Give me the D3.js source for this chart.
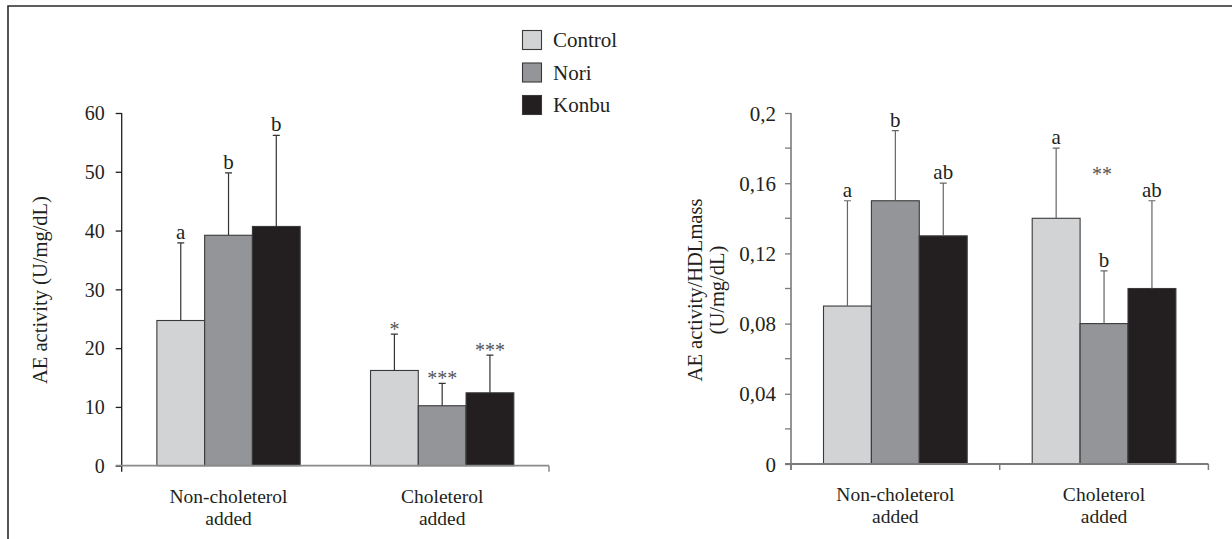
<!DOCTYPE html>
<html>
<head>
<meta charset="utf-8">
<script src="https://cdn.jsdelivr.net/npm/d3@7"></script>
<style>
  body { margin: 0; background: #fff; }
</style>
</head>
<body>
<script>
// data
var groups = ['Non-choleterol|added', 'Choleterol|added'];
var series = ['Control', 'Nori', 'Konbu'];
var colors = ['#d1d3d4', '#939598', '#231f20'];

// left panel: AE activity (U/mg/dL)
var aeMean  = [[24.7, 39.2, 40.7], [16.2, 10.2, 12.4]];
var aeErr   = [[37.9, 49.8, 56.2], [22.4, 14.0, 18.8]];
var aeMarks = [['a', 'b', 'b'], ['*', '***', '***']];
var aeTicks = [0, 10, 20, 30, 40, 50, 60];

// right panel: AE activity/HDLmass (U/mg/dL)
var hdlMean  = [[0.09, 0.15, 0.13], [0.14, 0.08, 0.10]];
var hdlErr   = [[0.15, 0.19, 0.16], [0.18, 0.11, 0.15]];
var hdlMarks = [['a', 'b', 'ab'], ['a', 'b', 'ab']];
var hdlTicks = [0, 0.04, 0.08, 0.12, 0.16, 0.2];
var hdlMinor = [0.02, 0.06, 0.10, 0.14, 0.18];
var hdlGroupMark = [null, '**'];
var hdlGroupMarkAt = [null, 0.167];

var FONT = '"Liberation Serif", "Times New Roman", Tinos, "Noto Serif", "DejaVu Serif", serif';
var W = 1232, H = 539;
var svg = d3.select('body').append('svg').attr('width', W).attr('height', H)
  .style('display', 'block').attr('font-family', FONT);

// every label goes through here so the serif face is set on the element itself
function txt(sel, size, color) {
  return sel.attr('font-family', FONT).attr('font-size', size)
    .style('font-family', FONT).attr('fill', color || '#231f20');
}

// frame (left + top edges only, the figure is cut on the other sides)
svg.append('path')
  .attr('d', 'M8,' + H + ' L8,6 L' + W + ',6')
  .attr('fill', 'none').attr('stroke', '#2a2a2a').attr('stroke-width', 1.6);

function panel(opt) {
  var g = svg.append('g');
  var y = d3.scaleLinear().domain(opt.domain).range([opt.y0, opt.y1]);
  var x0 = d3.scaleBand().domain(groups).range([opt.x0, opt.x1]);
  var bw = x0.bandwidth();
  var x1 = d3.scaleBand().domain(series)
    .range([(bw - opt.gw) / 2, (bw + opt.gw) / 2]);

  // y axis
  var yAxis = d3.axisLeft(y).tickValues(opt.ticks).tickSize(6).tickPadding(opt.pad)
    .tickFormat(opt.fmt);
  var ya = g.append('g').attr('transform', 'translate(' + opt.x0 + ',0)').call(yAxis)
    .attr('font-family', FONT);
  ya.select('.domain').remove();
  ya.selectAll('.tick line').attr('stroke', opt.axisColor).attr('stroke-width', 1.3);
  txt(ya.selectAll('.tick text'), opt.tickSize).attr('dy', '0.34em');
  if (opt.minor) {
    g.selectAll('.minor').data(opt.minor).enter().append('line')
      .attr('x1', opt.x0 - 6).attr('x2', opt.x0)
      .attr('y1', function(d){ return y(d); }).attr('y2', function(d){ return y(d); })
      .attr('stroke', opt.axisColor).attr('stroke-width', 1.3);
  }
  g.append('line')
    .attr('x1', opt.x0).attr('x2', opt.x0)
    .attr('y1', y(opt.domain[1])).attr('y2', y(0) + 6)
    .attr('stroke', opt.axisColor).attr('stroke-width', opt.yAxisWidth);

  // bars
  groups.forEach(function(grp, gi) {
    var gg = g.append('g').attr('transform', 'translate(' + x0(grp) + ',0)');
    gg.selectAll('rect').data(series).enter().append('rect')
      .attr('x', function(s){ return x1(s); })
      .attr('y', function(s, i){ return y(opt.mean[gi][i]); })
      .attr('width', x1.bandwidth())
      .attr('height', function(s, i){ return y(0) - y(opt.mean[gi][i]); })
      .attr('fill', function(s, i){ return colors[i]; })
      .attr('stroke', '#3a3a3a').attr('stroke-width', 1.1);

    // error bars (upper only)
    gg.selectAll('.err').data(series).enter().append('path')
      .attr('d', function(s, i) {
        var cx = x1(s) + x1.bandwidth() / 2;
        var t = y(opt.err[gi][i]), b = y(opt.mean[gi][i]);
        return 'M' + cx + ',' + b + ' L' + cx + ',' + t +
               ' M' + (cx - 3.5) + ',' + t + ' L' + (cx + 3.5) + ',' + t;
      })
      .attr('fill', 'none').attr('stroke', opt.errColor).attr('stroke-width', 1.2);

    gg.selectAll('.mk').data(series).enter().append('text')
      .attr('x', function(s){ return x1(s) + x1.bandwidth() / 2; })
      .attr('y', function(s, i){
        var m = opt.marks[gi][i];
        return y(opt.err[gi][i]) - (m.charAt(0) === '*' ? -2 : 4);
      })
      .attr('text-anchor', 'middle')
      .each(function(s, i){
        var star = opt.marks[gi][i].charAt(0) === '*';
        txt(d3.select(this), star ? 20 : 21, star ? '#555' : '#231f20');
      })
      .text(function(s, i){ return opt.marks[gi][i]; });

    if (opt.groupMark && opt.groupMark[gi]) {
      txt(gg.append('text'), 20, '#555')
        .attr('x', bw / 2 - 2).attr('y', y(opt.groupMarkAt[gi]) + 10)
        .attr('text-anchor', 'middle')
        .text(opt.groupMark[gi]);
    }

    // category label
    var lines = grp.split('|');
    txt(gg.selectAll('.cat').data(lines).enter().append('text'), 19.5)
      .attr('x', bw / 2)
      .attr('y', function(d, i){ return y(0) + 37 + i * 21.8; })
      .attr('text-anchor', 'middle')
      .text(function(d){ return d; });
  });

  // x axis line and its ticks
  g.append('line')
    .attr('x1', opt.x0 - 6).attr('x2', opt.x1)
    .attr('y1', y(0)).attr('y2', y(0))
    .attr('stroke', opt.xAxisColor).attr('stroke-width', 1.8);
  g.selectAll('.xt').data(opt.xTicks).enter().append('line')
    .attr('x1', function(d){ return d; }).attr('x2', function(d){ return d; })
    .attr('y1', y(0)).attr('y2', y(0) + 6)
    .attr('stroke', opt.xAxisColor).attr('stroke-width', 1.5);

  // y title
  opt.title.forEach(function(t, i) {
    txt(g.append('text'), 20.5)
      .attr('transform', 'translate(' + opt.titleX[i] + ',' + opt.titleY + ') rotate(-90)')
      .attr('text-anchor', 'middle')
      .text(t);
  });
}

panel({
  domain: [0, 60], y0: 465.7, y1: 113,
  x0: 121.7, x1: 549, gw: 143.3, pad: 11, tickSize: 20,
  ticks: aeTicks, fmt: d3.format('d'),
  mean: aeMean, err: aeErr, marks: aeMarks,
  axisColor: '#231f20', yAxisWidth: 1.3, xAxisColor: '#8a8a8a',
  errColor: '#333', xTicks: [549],
  title: ['AE activity (U/mg/dL)'], titleX: [47], titleY: 290
});

panel({
  domain: [0, 0.2], y0: 464, y1: 113,
  x0: 791, x1: 1208.4, gw: 143.7, pad: 9, tickSize: 21,
  ticks: hdlTicks, minor: hdlMinor,
  fmt: function(d){ return d === 0 ? '0' : String(+d.toFixed(2)).replace('.', ','); },
  mean: hdlMean, err: hdlErr, marks: hdlMarks,
  groupMark: hdlGroupMark, groupMarkAt: hdlGroupMarkAt,
  axisColor: '#7a7a7a', yAxisWidth: 1.6, xAxisColor: '#7a7a7a',
  errColor: '#666', xTicks: [791, 999.7, 1208.4],
  title: ['AE activity/HDLmass', '(U/mg/dL)'], titleX: [702, 724], titleY: 290
});

// legend
var legend = svg.append('g');
legend.selectAll('rect').data(series).enter().append('rect')
  .attr('x', 522.5).attr('y', function(d, i){ return 30.5 + i * 32.5; })
  .attr('width', 19).attr('height', 19)
  .attr('fill', function(d, i){ return colors[i]; })
  .attr('stroke', '#3a3a3a').attr('stroke-width', 1.1);
txt(legend.selectAll('text').data(series).enter().append('text'), 21)
  .attr('x', 553).attr('y', function(d, i){ return 47 + i * 32.5; })
  .text(function(d){ return d; });
</script>
</body>
</html>
